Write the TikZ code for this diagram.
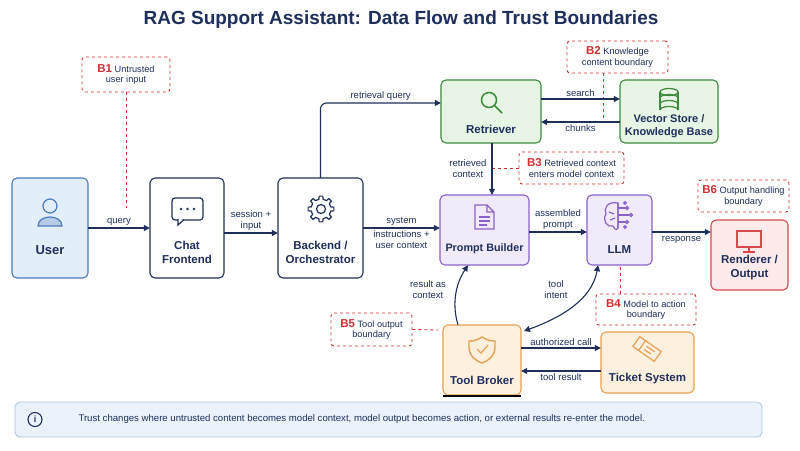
\documentclass[tikz,border=0pt]{standalone}
\usepackage{fontspec}
\setmainfont{Liberation Sans}
\usetikzlibrary{arrows.meta,shapes.geometric}
\definecolor{navy}{HTML}{1E2F5C}
\definecolor{bred}{HTML}{D03030}
\definecolor{ubl}{HTML}{E3EEFB}\definecolor{ubd}{HTML}{4A7CC0}
\definecolor{gfill}{HTML}{E6F5E4}\definecolor{gdraw}{HTML}{3C8A3C}
\definecolor{pfill}{HTML}{F1EAFB}\definecolor{pdraw}{HTML}{8A62C8}
\definecolor{rfill}{HTML}{FDEAEA}\definecolor{rdraw}{HTML}{D84A4A}
\definecolor{ofill}{HTML}{FDF0DF}\definecolor{odraw}{HTML}{E8A050}
\definecolor{ffill}{HTML}{EAF2FB}\definecolor{fdraw}{HTML}{A9C2E0}
\tikzset{
 box/.style={draw=navy,line width=1.1pt,rounded corners=5pt,fill=white},
 ttl/.style={font=\bfseries\fontsize{11.5}{14}\selectfont,text=navy,align=center},
 bnd/.style={draw=bred,dashed,line width=0.9pt,rounded corners=3pt,fill=white,font=\fontsize{9.2}{10.5}\selectfont,text=navy,align=center,inner sep=2pt},
 bl/.style={draw=bred,dashed,line width=0.9pt},
 arr/.style={draw=navy,line width=1.1pt,-{Triangle[length=6pt,width=6pt]}},
 lbl/.style={font=\fontsize{9.5}{11}\selectfont,text=navy,align=center,inner sep=2pt},
 ic/.style={line width=1.2pt}
}
\newcommand{\bb}[1]{\textcolor{bred}{\bfseries\fontsize{11.5}{11}\selectfont #1}}
\begin{document}
\begin{tikzpicture}[x=1pt,y=-1pt]
\useasboundingbox (0,0) rectangle (800,450);
\fill[white] (0,0) rectangle (800,450);
\node[font=\bfseries\fontsize{19}{22}\selectfont,text=navy] (title) at (401,20) {RAG Support Assistant: Data Flow and Trust Boundaries};
% nodes
\path[box,fill=ubl,draw=ubd] (12,178) rectangle (88,278); \node (user) at (50,228) [minimum width=76pt,minimum height=100pt]{};
\node[ttl,font=\bfseries\fontsize{13}{14}\selectfont] (userl) at (50,250) {User};
\path[box] (150,178) rectangle (224,278); \node (chat) at (187,228)[minimum width=74pt,minimum height=100pt]{};
\node[ttl] (chatl) at (187,252) {Chat\\Frontend};
\path[box] (278,178) rectangle (363,278); \node (back) at (320.5,228)[minimum width=85pt,minimum height=100pt]{};
\node[ttl] (backl) at (320.5,252) {Backend /\\Orchestrator};
\path[box,fill=gfill,draw=gdraw] (441,80) rectangle (541,143); \node (ret) at (491,111.5)[minimum width=100pt,minimum height=63pt]{};
\node[ttl] (retl) at (491,129) {Retriever};
\path[box,fill=gfill,draw=gdraw] (620,80) rectangle (718,143); \node (vec) at (669,111.5)[minimum width=98pt,minimum height=63pt]{};
\node[ttl,font=\bfseries\fontsize{11}{13}\selectfont] (vecl) at (669,126) {Vector Store /\\Knowledge Base};
\path[box,fill=pfill,draw=pdraw] (440,195) rectangle (529,265); \node (pb) at (484.5,230)[minimum width=89pt,minimum height=70pt]{};
\node[ttl,font=\bfseries\fontsize{10.8}{13}\selectfont] (pbl) at (484.5,249) {Prompt Builder};
\path[box,fill=pfill,draw=pdraw] (587,195) rectangle (652,265); \node (llm) at (619.5,230)[minimum width=65pt,minimum height=70pt]{};
\node[ttl] (llml) at (619.5,250) {LLM};
\path[box,fill=rfill,draw=rdraw] (711,220) rectangle (788,290); \node (ren) at (749.5,255)[minimum width=77pt,minimum height=70pt]{};
\node[ttl] (renl) at (749.5,268) {Renderer /\\Output};
\path[box,fill=ofill,draw=odraw] (443,325) rectangle (521,395); \node (tb) at (482,360)[minimum width=78pt,minimum height=70pt]{};
\node[ttl] (tbl) at (482,380) {Tool Broker};
\draw[line width=2pt,black] (443,396) -- (521,396);
\path[box,fill=ofill,draw=odraw] (601,332) rectangle (694,393); \node (tk) at (647.5,362.5)[minimum width=93pt,minimum height=61pt]{};
\node[ttl] (tkl) at (647.5,379) {Ticket System};
% icons
\draw[ubd,ic,fill=ubl] (50,206) circle (7);
\draw[ubd,ic,fill=ubd!40] (38,226) .. controls (38,214) and (62,214) .. (62,226) -- cycle;
\draw[navy,ic,rounded corners=3pt] (172,198) rectangle (203,220);
\draw[navy,ic,fill=white] (178,219) -- (178,225) -- (184,219.5);
\foreach \i in {181,187.5,194} \fill[navy] (\i,209) circle (1.3);
\begin{scope}[shift={(321,209)}]
\draw[navy,ic] (0,0) circle (4.5);
\draw[navy,ic,line join=round] (-12:10) \foreach \a in {0,45,...,315}{ -- (\a-12:10) -- (\a-8:13) -- (\a+8:13) -- (\a+12:10)} -- cycle;
\end{scope}
\draw[gdraw,ic,line width=1.5pt] (489,100) circle (7.5) (494.5,105.5) -- (502,113);
\begin{scope}[gdraw,ic]
\draw (669,92) ellipse (9 and 3.5);
\draw (660,92) -- (660,110) (678,92) -- (678,110);
\draw (660,98) arc[start angle=180,end angle=360,x radius=9,y radius=3.5];
\draw (660,104) arc[start angle=180,end angle=360,x radius=9,y radius=3.5];
\draw (660,110) arc[start angle=180,end angle=360,x radius=9,y radius=3.5];
\end{scope}
\draw[pdraw,ic] (475,205) -- (487,205) -- (494,212) -- (494,229) -- (475,229) -- cycle (487,205) -- (487,212) -- (494,212);
\draw[pdraw,ic] (479,217) -- (490,217) (479,221) -- (490,221) (479,225) -- (487,225);
\begin{scope}[pdraw,ic]
\draw (618,203) .. controls (608,201) and (603,208) .. (606,214) .. controls (602,220) and (607,228) .. (613,226) .. controls (615,231) and (618,230) .. (618,228) -- cycle;
\draw (618,203) -- (618,228) (609,212) -- (614,214) (610,220) -- (615,218);
\draw (618,208) -- (626,208) (618,215) -- (629,215) (618,222) -- (626,222);
\draw (627,208) circle (1.5) (631,215) circle (1.5) (627,222) circle (1.5) (625,203) circle (1.3) (625,227) circle (1.3);
\end{scope}
\draw[rdraw,ic] (737,231) rectangle (761,247) (749,247) -- (749,252) (743,252) -- (755,252);
\draw[odraw,ic,line width=1.4pt] (482,337) .. controls (476,341) and (471,341) .. (469,341) -- (469,347) .. controls (469,356) and (476,361) .. (482,363) .. controls (488,361) and (495,356) .. (495,347) -- (495,341) .. controls (493,341) and (488,341) .. (482,337) -- cycle;
\draw[odraw,ic] (477,349) -- (481,353) -- (488,345);
\draw[odraw,ic,rotate around={-35:(647,349)}] (634,343) rectangle (660,355) (641,343) -- (641,355) (645,347) -- (655,347) (645,351) -- (653,351);
% boundaries
\node[bnd,minimum width=88pt,minimum height=35pt] (b1) at (126,74.5) {\bb{B1} Untrusted\\user input};
\node[bnd,minimum width=101pt,minimum height=32pt] (b2) at (617.5,57) {\bb{B2} Knowledge\\content boundary};
\node[bnd,minimum width=105pt,minimum height=32pt] (b3) at (571.5,168) {\bb{B3} Retrieved context\\enters model context};
\node[bnd,minimum width=91pt,minimum height=32pt] (b6) at (743.5,196) {\bb{B6} Output handling\\boundary};
\node[bnd,minimum width=100pt,minimum height=31pt] (b4) at (646,309.5) {\bb{B4} Model to action\\boundary};
\node[bnd,minimum width=81pt,minimum height=33pt] (b5) at (371.5,329.5) {\bb{B5} Tool output\\boundary};
\coordinate (e1) at (126,208); \coordinate (e2) at (603,122); \coordinate (e3) at (492,168); \coordinate (e5) at (438,330);
\draw[bl] (b1.south) -- (e1);
\draw[bl] (b2.south -| e2) -- (e2);
\draw[bl] (b3.west) -- (e3);
\draw[bl] (b4.north -| 620,0) -- (llm.south -| 620,0);
\draw[bl] (b5.east) -- (e5);
% arrows
\draw[arr] (user.east |- 0,228) -- node[lbl,above]{query} (chat.west |- 0,228);
\draw[arr] (chat.east |- 0,233) -- node[lbl,above]{session +\\input} (back.west |- 0,233);
\draw[arr] (back.east |- 0,228) -- node[lbl,above]{system} node[lbl,below]{instructions +\\user context} (pb.west |- 0,228);
\draw[arr,rounded corners=6pt] (back.north) -- (320.5,103) -- node[lbl,above]{retrieval query} (ret.west |- 0,103);
\draw[arr] (ret.east |- 0,99) -- node[lbl,above]{search} (vec.west |- 0,99);
\draw[arr] (vec.west |- 0,122) -- node[lbl,below]{chunks} (ret.east |- 0,122);
\draw[arr] (ret.south -| 492,0) -- node[lbl,left,xshift=-3pt]{retrieved\\context} (pb.north -| 492,0);
\draw[arr] (pb.east |- 0,232) -- node[lbl,above]{assembled\\prompt} (llm.west |- 0,232);
\draw[arr] (llm.east |- 0,232) -- node[lbl,below,yshift=-2pt]{response} (ren.west |- 0,232);
\draw[arr] (tb.north -| 458,0) .. controls (452,305) and (455,285) .. (pb.south -| 468,0);
\node[lbl] (l1) at (428,290) {result as\\context};
\draw[arr,{Triangle[length=6pt,width=6pt]}-{Triangle[length=6pt,width=6pt]}] (524,331) .. controls (560,318) and (592,300) .. (llm.south -| 598,0);
\node[lbl] (l2) at (556,290) {tool\\intent};
\draw[arr] (tb.east |- 0,348) -- node[lbl,above]{authorized call} (tk.west |- 0,348);
\draw[arr] (tk.west |- 0,371) -- node[lbl,below]{tool result} (tb.east |- 0,371);
% footer
\draw[fdraw,fill=ffill,line width=0.8pt,rounded corners=5pt] (15,402) rectangle (762,437);
\draw[navy,line width=1.1pt] (35,419.5) circle (7);
\node[font=\bfseries\fontsize{9}{10}\selectfont,text=navy] (fi) at (35,419.5) {i};
\node[font=\fontsize{9.6}{11}\selectfont,text=navy,anchor=west] (ft) at (75,419.5) {Trust changes where untrusted content becomes model context, model output becomes action, or external results re-enter the model.};
\end{tikzpicture}
\end{document}
